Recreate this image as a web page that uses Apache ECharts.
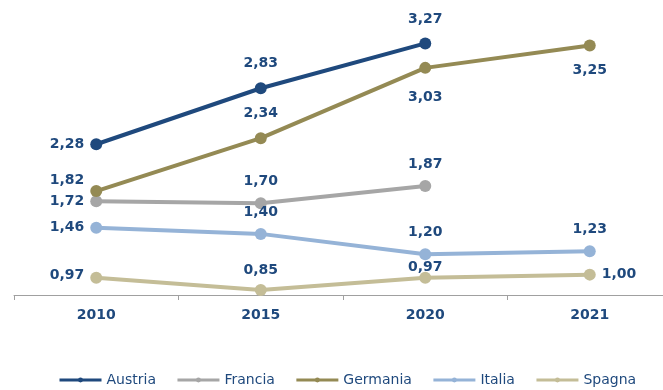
<!DOCTYPE html>
<html>
<head>
<meta charset="utf-8">
<script src="https://cdn.jsdelivr.net/npm/echarts@6/dist/echarts.min.js"></script>
<style>html,body{margin:0;padding:0;background:#fff;overflow:hidden}#c{width:672px;height:390px}</style>
</head>
<body>
<div id="c"></div>
<script>
var categories = ['2010', '2015', '2020', '2021'];
var austria  = [2.28, 2.83, 3.27, null];
var francia  = [1.72, 1.70, 1.87, null];
var germania = [1.82, 2.34, 3.03, 3.25];
var italia   = [1.46, 1.40, 1.20, 1.23];
var spagna   = [0.97, 0.85, 0.97, 1.00];

// label placement per point (style only): [position, distance, dx, dy]
var posAustria  = [['left', 6, 0, 0], ['top', 12, 0, 0], ['top', 11, 0, 0], null];
var posFrancia  = [['left', 6, 0, 0], ['top', 9, 0, 0], ['top', 9, 0, 0], null];
var posGermania = [['left', 6, 0, -11], ['top', 12, 0, 0], ['bottom', 6, 0, 10], ['bottom', 6, 0, 6]];
var posItalia   = [['left', 6, 0, 0], ['top', 9, 0, 0], ['top', 9, 0, 0], ['top', 9, 0, 0]];
var posSpagna   = [['left', 6, 0, -2], ['top', 7, 0, 0], ['top', 6, 0, 9], ['right', 6, 0, 0]];

var TXT = '#1F497D';
var FONT = 'DejaVu Sans';

function fmt(v) { return v.toFixed(2).replace('.', ','); }

function build(values, pos) {
  return values.map(function (v, i) {
    if (v === null) return null;
    var p = pos[i];
    return {
      value: v,
      label: { show: true, position: p[0], distance: p[1], offset: [p[2], p[3]] }
    };
  });
}

function series(name, values, pos, color) {
  return {
    name: name,
    type: 'line',
    data: build(values, pos),
    symbol: 'circle',
    symbolSize: 12,
    lineStyle: { width: 4, color: color },
    itemStyle: { color: color },
    connectNulls: false,
    label: {
      color: TXT, fontFamily: FONT, fontWeight: 'bold', fontSize: 14,
      formatter: function (p) { return fmt(p.value); }
    },
    emphasis: { disabled: true },
    animation: false
  };
}

var chart = echarts.init(document.getElementById('c'), null, { renderer: 'canvas' });
chart.setOption({
  animation: false,
  grid: { left: 14, right: 0, top: 20, bottom: 95 },
  legend: {
    left: 58, top: 373, padding: 0,
    itemWidth: 42, itemHeight: 6, itemGap: 20,
    lineStyle: { width: 3 },
    textStyle: { color: TXT, fontFamily: FONT, fontSize: 14 },
    data: ['Austria', 'Francia', 'Germania', 'Italia', 'Spagna']
  },
  xAxis: {
    type: 'category',
    data: categories,
    axisLine: { lineStyle: { color: '#A0A0A0', width: 1 } },
    axisTick: { show: true, length: 5, lineStyle: { color: '#A0A0A0' } },
    axisLabel: { color: TXT, fontFamily: FONT, fontWeight: 'bold', fontSize: 14, margin: 13 }
  },
  yAxis: {
    type: 'value', min: 0.8, max: 3.5, show: false,
    splitLine: { show: false }
  },
  series: [
    series('Austria', austria, posAustria, '#1F497D'),
    series('Francia', francia, posFrancia, '#A6A6A6'),
    series('Germania', germania, posGermania, '#948A54'),
    series('Italia', italia, posItalia, '#95B3D7'),
    series('Spagna', spagna, posSpagna, '#C4BD97')
  ]
});
</script>
</body>
</html>
